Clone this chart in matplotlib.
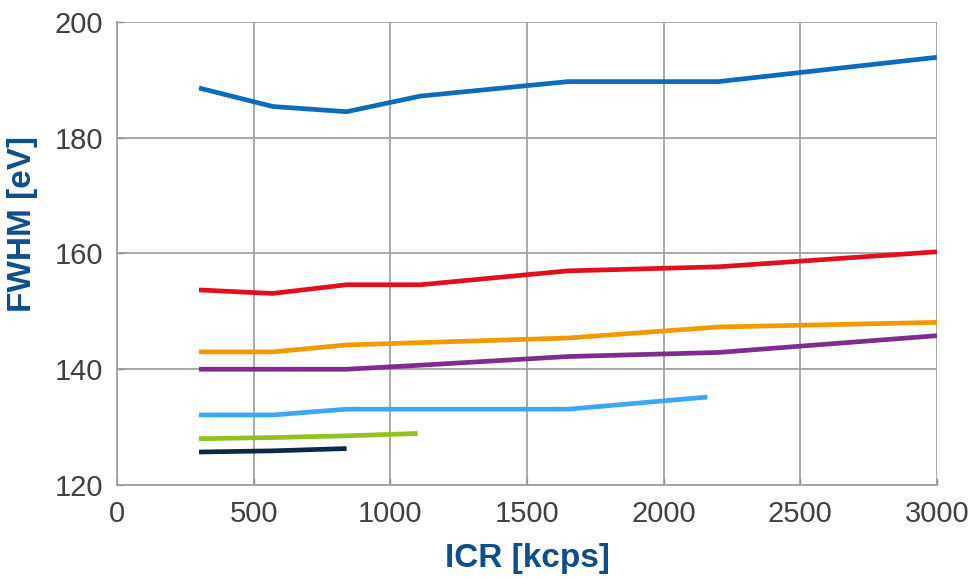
import matplotlib
matplotlib.use("Agg")
import matplotlib.pyplot as plt

# Input count rate [kcps] and energy resolution FWHM [eV] per detector setting
icr_a = [300, 570, 840, 1110, 1650, 2200, 3000]
fwhm_blue = [188.6, 185.4, 184.5, 187.2, 189.7, 189.7, 193.9]
fwhm_red = [153.7, 153.1, 154.6, 154.6, 157.0, 157.7, 160.3]
fwhm_orange = [143.0, 143.0, 144.2, 144.6, 145.4, 147.3, 148.1]
fwhm_purple = [140.0, 140.0, 140.0, 140.7, 142.2, 142.9, 145.8]

icr_lightblue = [300, 570, 840, 1110, 1650, 2160]
fwhm_lightblue = [132.1, 132.1, 133.1, 133.1, 133.1, 135.2]

icr_green = [300, 570, 840, 1100]
fwhm_green = [128.0, 128.2, 128.5, 128.9]

icr_navy = [300, 570, 840]
fwhm_navy = [125.7, 125.9, 126.3]

x_ticks = [0, 500, 1000, 1500, 2000, 2500, 3000]
y_ticks = [120, 140, 160, 180, 200]

series = [
    (icr_a, fwhm_blue, "#0a6cba"),
    (icr_a, fwhm_red, "#e2101d"),
    (icr_a, fwhm_orange, "#f49a00"),
    (icr_a, fwhm_purple, "#7e2d8e"),
    (icr_lightblue, fwhm_lightblue, "#3aa8f4"),
    (icr_green, fwhm_green, "#93c11e"),
    (icr_navy, fwhm_navy, "#0b2a47"),
]

plt.rcParams["font.family"] = ["Liberation Sans", "DejaVu Sans"]

W, H = 973, 578
fig = plt.figure(figsize=(W / 100, H / 100), dpi=100)
ax = fig.add_axes([117 / W, 1 - 485 / H, 820 / W, 463 / H])

for xs, ys, c in series:
    ax.plot(xs, ys, color=c, lw=3.4, solid_capstyle="butt", solid_joinstyle="round")

ax.set_xlim(0, 3000)
ax.set_ylim(120, 200)
ax.set_xticks(x_ticks)
ax.set_yticks(y_ticks)
ax.grid(True, color="#a3a3a3", lw=1.3)
ax.set_axisbelow(True)

for side in ("top", "right"):
    ax.spines[side].set_visible(False)
for side in ("left", "bottom"):
    ax.spines[side].set_color("#a0a0a0")
    ax.spines[side].set_linewidth(1.3)

ax.tick_params(axis="both", direction="in", length=5, width=1.0, color="#909090",
               labelcolor="#404040", labelsize=21)
ax.tick_params(axis="y", pad=10)
ax.tick_params(axis="x", pad=11)

fig.text(23 / W, 1 - 224 / H, "FWHM [eV]", rotation=90, ha="center", va="center",
         fontsize=24, fontweight="bold", color="#0d4f8b")
fig.text(527 / W, 1 - 558 / H, "ICR [kcps]", ha="center", va="center",
         fontsize=24, fontweight="bold", color="#0d4f8b")

fig.savefig("out.png", dpi=100)
